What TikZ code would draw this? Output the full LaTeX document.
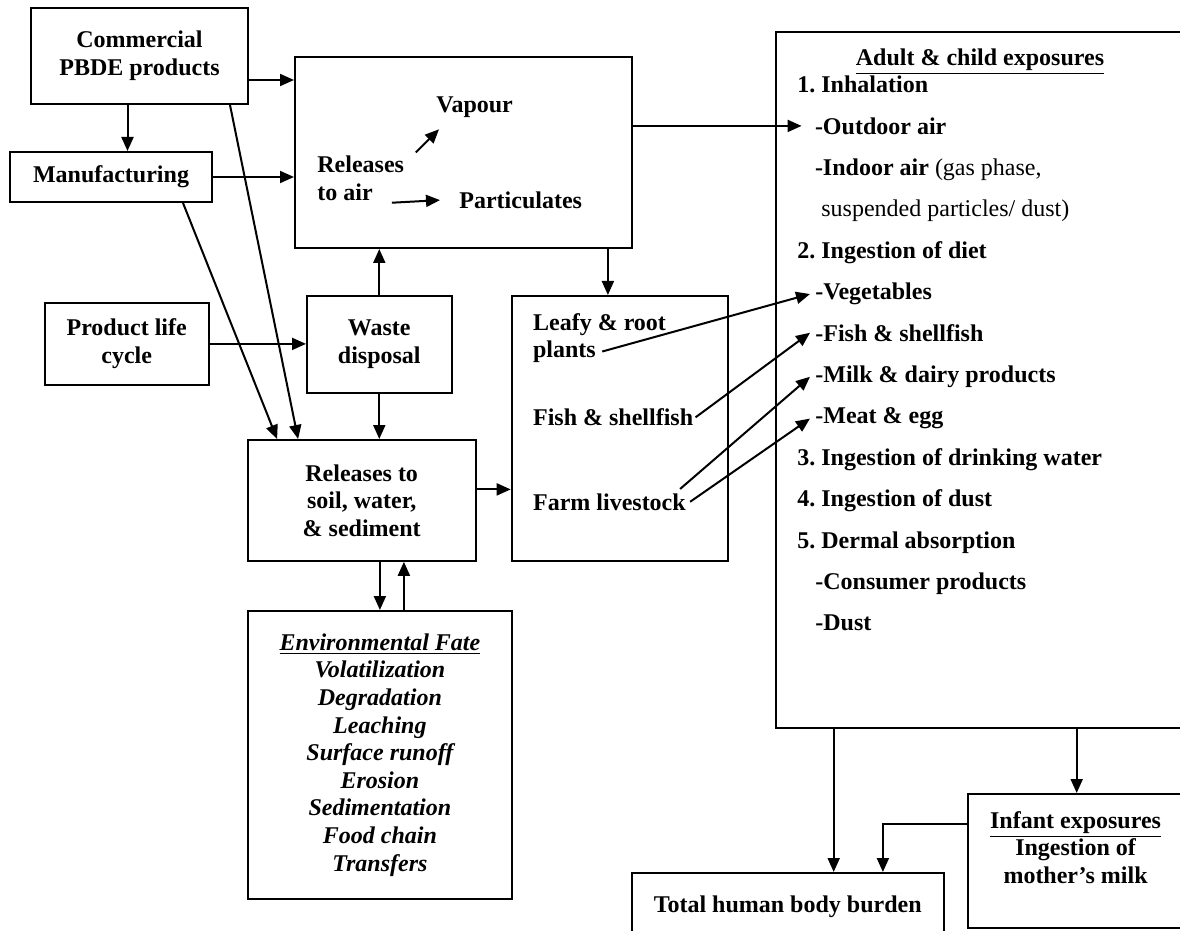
\documentclass[tikz,border=0pt]{standalone}
\usepackage{fontspec}
\setmainfont{Liberation Serif}
\usetikzlibrary{arrows.meta}
\tikzset{>={Triangle[length=7pt,width=6pt]}}
\newcommand{\boxfont}{\fontsize{12}{13.8}\selectfont\bfseries}
\tikzstyle{box}=[rectangle,draw,line width=1pt,align=center,inner sep=0pt,font=\boxfont]
\tikzstyle{txt}=[inner sep=0pt,anchor=base west,align=left,font=\boxfont]
\tikzstyle{arr}=[->,line width=1pt]

\begin{document}
\begin{tikzpicture}[x=0.5pt,y=-0.5pt]
\useasboundingbox (0,0) rectangle (1180,931);
\clip (0,0) rectangle (1180,931);
% sources and releases
\node[box,minimum width=108.5pt,minimum height=48pt] (comm) at (139.5,56) {Commercial\\PBDE products};
\node[box,minimum width=100.6pt,minimum height=25pt] (mfg) at (111,177) {Manufacturing};
\node[box,minimum width=81.9pt,minimum height=41.2pt] (prod) at (126.7,343.9) {Product life\\cycle};
\node[box,minimum width=168.5pt,minimum height=95.5pt] (air) at (463.5,152.5) {};
\node[box,minimum width=72.3pt,minimum height=48.4pt] (waste) at (379.3,344.4) {Waste\\disposal};
\node[box,minimum width=114pt,minimum height=60.4pt] (rel) at (361.7,500.4) {Releases to\\soil, water,\\\& sediment};
\node[box,minimum width=132.2pt,minimum height=144pt,font=\boxfont\itshape] (fate) at (379.9,755)
  {\underline{Environmental Fate}\\Volatilization\\Degradation\\Leaching\\Surface runoff\\Erosion\\Sedimentation\\Food chain\\Transfers};
\node[box,minimum width=108.2pt,minimum height=132.5pt] (food) at (619.9,428.5) {};
\node[box,minimum width=207.3pt,minimum height=348pt] (adult) at (982.8,380.3) {};
\node[box,minimum width=156pt,minimum height=33.5pt] (total) at (787.7,906.5) {Total human body burden};
\node[box,minimum width=108.3pt,minimum height=67pt] (infant) at (1076.7,861) {};

% texts inside the boxes (base = last line)
\node[txt] (relair) at (317,200.3) {Releases\\to air};
\node[txt] (vapour) at (436,113) {Vapour};
\node[txt] (partic) at (459,208.3) {Particulates};
\node[txt] (leafy) at (532.7,330.7) {Leafy \& root};
\node[txt] (plants) at (532.7,357.3) {plants};
\node[txt] (fish) at (532.7,425.7) {Fish \& shellfish};
\node[txt] (farm) at (532.7,510) {Farm livestock};
\node[txt,anchor=base,align=center] (infanttxt) at (1075.6,883.3) {\underline{Infant exposures}\\Ingestion of\\mother's milk};

% exposure list
\node[txt,anchor=base] (adulthd) at (980,65.7) {\underline{Adult \& child exposures}};
\node[txt] (inhal) at (797,92.7) {1.\ Inhalation};
\node[txt] (outdoor) at (814.6,134.1) {-Outdoor air};
\node[txt] (indoor) at (814.6,175.5) {-Indoor air \textmd{(gas phase,}};
\node[txt] (susp) at (821,216.9) {\textmd{suspended particles/ dust)}};
\node[txt] (diet) at (797,258.3) {2.\ Ingestion of diet};
\node[txt] (veg) at (815,299.7) {-Vegetables};
\node[txt] (fishx) at (815,341.1) {-Fish \& shellfish};
\node[txt] (milk) at (815,382.5) {-Milk \& dairy products};
\node[txt] (meat) at (815,423.9) {-Meat \& egg};
\node[txt] (water) at (797,465.3) {3.\ Ingestion of drinking water};
\node[txt] (dust) at (797,506.7) {4.\ Ingestion of dust};
\node[txt] (dermal) at (797,548.1) {5.\ Dermal absorption};
\node[txt] (consumer) at (815,589.5) {-Consumer products};
\node[txt] (dustx) at (815,630.9) {-Dust};

% connectors
\draw[arr] ([yshift=-12pt]comm.east) -- ([yshift=-12pt]comm.east -| air.west);
\draw[arr] ([xshift=-6pt]comm.south) -- ([xshift=-6pt]comm.south |- mfg.north);
\draw[arr] (mfg.east) -- (mfg.east -| air.west);
\draw[arr] ([xshift=-9.5pt]comm.south east) -- ([xshift=25.7pt]rel.north west);
\draw[arr] ([xshift=-14.8pt]mfg.south east) -- ([xshift=15.2pt]rel.north west);
\draw[arr] (prod.east) -- (prod.east -| waste.west);
\draw[arr] (waste.north) -- (waste.north |- air.south);
\draw[arr] (waste.south) -- (waste.south |- rel.north);
\draw[arr] ([xshift=-6pt]food.north |- air.south) -- ([xshift=-6pt]food.north);
\draw[arr] (air.east |- outdoor.west) -- ([xshift=-6.5pt]outdoor.west);
\draw[arr] ([yshift=5.5pt]rel.east) -- ([yshift=5.5pt]rel.east -| food.west);
\draw[arr] (fate.north |- rel.south) -- (fate.north);
\draw[arr] ([xshift=12pt]fate.north) -- ([xshift=12pt]fate.north |- rel.south);
\draw[arr] ([xshift=5.7pt,yshift=1.6pt]relair.north east) -- ([xshift=1.5pt,yshift=-5.4pt]vapour.south west);
\draw[arr] ([xshift=-6.3pt,yshift=-0.9pt]relair.south east) -- ([xshift=-9.5pt]partic.west);
\draw[arr] ([xshift=3pt]plants.east) -- ([xshift=-2.5pt]veg.west);
\draw[arr] ([xshift=1pt]fish.east) -- ([xshift=-2.5pt]fishx.west);
\draw[arr] ([xshift=-3pt,yshift=2pt]farm.north east) -- ([xshift=-2.5pt]milk.west);
\draw[arr] ([xshift=2pt]farm.east) -- ([xshift=-2.5pt]meat.west);
\draw[arr] ([xshift=23pt]total.north |- adult.south) -- ([xshift=23pt]total.north);
\draw[arr] (infant.north |- adult.south) -- (infant.north);
\draw[arr] ([yshift=18.5pt]infant.west) -| ([xshift=47.6pt]total.north);
\end{tikzpicture}
\end{document}
